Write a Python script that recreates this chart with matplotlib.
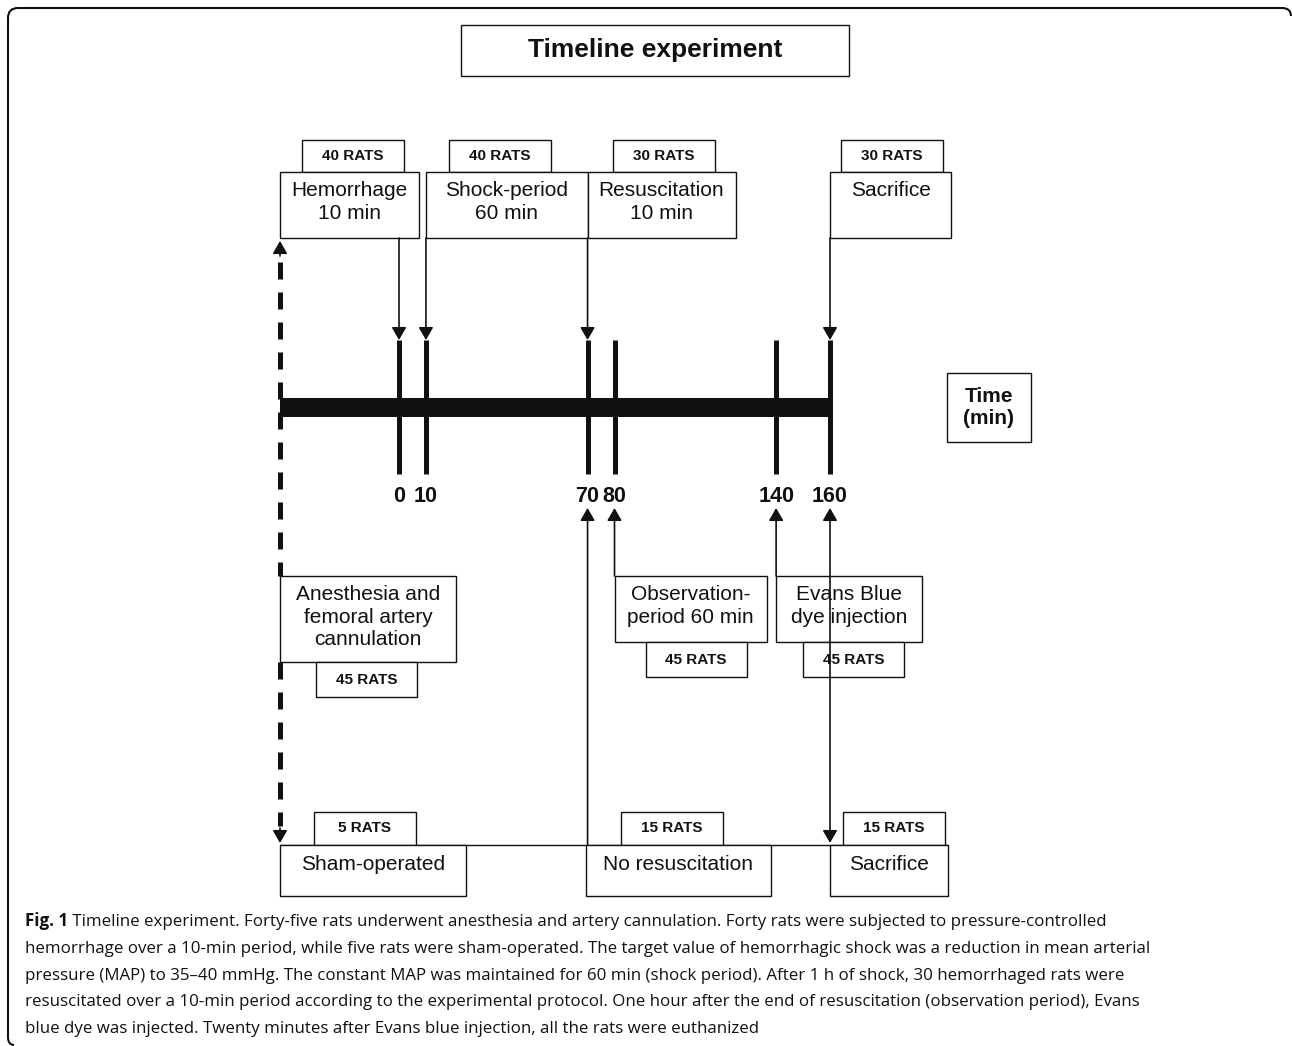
import matplotlib
matplotlib.use("Agg")
import matplotlib.pyplot as plt
from matplotlib.patches import Rectangle, PathPatch
from matplotlib.path import Path as MPath

# ---- data -------------------------------------------------------------
event_minutes = [0, 10, 70, 80, 140, 160]
event_labels = ["0", "10", "70", "80", "140", "160"]

title = "Timeline experiment"
axis_label = "Time\n(min)"

top_steps = ["Hemorrhage\n10 min", "Shock-period\n60 min", "Resuscitation\n10 min", "Sacrifice"]
top_rats = ["40 RATS", "40 RATS", "30 RATS", "30 RATS"]
top_minutes = [0, 10, 70, 160]

mid_steps = ["Anesthesia and\nfemoral artery\ncannulation", "Observation-\nperiod 60 min",
             "Evans Blue\ndye injection"]
mid_rats = ["45 RATS", "45 RATS", "45 RATS"]
mid_minutes = [None, 80, 140]

bottom_steps = ["Sham-operated", "No resuscitation", "Sacrifice"]
bottom_rats = ["5 RATS", "15 RATS", "15 RATS"]
bottom_minutes = [None, 70, 160]

caption_bold = "Fig. 1"
caption_lines = [
    " Timeline experiment. Forty-five rats underwent anesthesia and artery cannulation. Forty rats were subjected to pressure-controlled",
    "hemorrhage over a 10-min period, while five rats were sham-operated. The target value of hemorrhagic shock was a reduction in mean arterial",
    "pressure (MAP) to 35\u201340 mmHg. The constant MAP was maintained for 60 min (shock period). After 1 h of shock, 30 hemorrhaged rats were",
    "resuscitated over a 10-min period according to the experimental protocol. One hour after the end of resuscitation (observation period), Evans",
    "blue dye was injected. Twenty minutes after Evans blue injection, all the rats were euthanized",
]

# ---- layout -----------------------------------------------------------
W, H = 1292, 1046
FONT = "Liberation Sans"
TAB_SIZE, NUM_SIZE = 11, 15.5
CAP_FONT = ["Open Sans", "DejaVu Sans"]
CAP_SIZE = 12.2
INK = "#111111"

fig = plt.figure(figsize=(W / 100, H / 100), dpi=100)
ax = fig.add_axes([0, 0, 1, 1])
ax.set_xlim(0, W)
ax.set_ylim(H, 0)
ax.axis("off")

# timeline axes in minutes (0 min -> x=399 px, 160 min -> x=830 px)
tl = fig.add_axes([399 / W, 0, (830 - 399) / W, 1])
tl.set_xlim(0, 160)
tl.set_ylim(H, 0)
tl.axis("off")
tl.patch.set_alpha(0)


def tx(m):
    """minutes -> canvas x through the timeline axes."""
    d = tl.transData.transform((m, 0))
    return ax.transData.inverted().transform(d)[0]


def box(x0, x1, y0, y1, text=None, size=15, bold=False, pad=None, z=2):
    ax.add_patch(Rectangle((x0, y0), x1 - x0, y1 - y0, fc="white", ec=INK, lw=1.0, zorder=z))
    if text is None:
        return
    kw = dict(ha="center", fontsize=size, family=FONT, color=INK, zorder=z + 0.1,
              weight="bold" if bold else "normal", linespacing=1.24)
    if pad is None:
        ax.text((x0 + x1) / 2, (y0 + y1) / 2, text, va="center", **kw)
    else:
        ax.text((x0 + x1) / 2, y0 + pad, text, va="top", **kw)


def tab(x0, y0, y1, text, w=102):
    box(x0, x0 + w, y0, y1, text, size=TAB_SIZE, bold=True)


def arrow(x, y_from, y_to, both=False):
    style = "<|-|>" if both else "-|>"
    ax.annotate("", xy=(x, y_to), xytext=(x, y_from), zorder=5,
                arrowprops=dict(arrowstyle=style + ",head_length=0.38,head_width=0.22",
                                mutation_scale=20, lw=1.2, color=INK,
                                shrinkA=0, shrinkB=0))


# outer frame (top and left edges with rounded corners)
frame = MPath([(14, 1045), (8, 1045), (8, 1037), (8, 18), (8, 8), (18, 8),
               (1282, 8), (1291, 8), (1291, 16)],
              [MPath.MOVETO, MPath.CURVE3, MPath.CURVE3, MPath.LINETO, MPath.CURVE3,
               MPath.CURVE3, MPath.LINETO, MPath.CURVE3, MPath.CURVE3])
ax.add_patch(PathPatch(frame, fc="none", ec=INK, lw=1.5))

# title
box(461, 849, 25, 76, title, size=19, bold=True)

# timeline bar + ticks + labels
ax.add_patch(Rectangle((280, 398), tx(160) - 280, 19, fc=INK, ec="none", zorder=3))
tl.vlines(event_minutes, 340, 474, color=INK, lw=3.6, capstyle="butt", zorder=4,
          clip_on=False)
for m, lab in zip(event_minutes, event_labels):
    tl.text(m, 497, lab, ha="center", va="center", fontsize=NUM_SIZE, weight="bold",
            family=FONT, color=INK)
box(947, 1031, 373, 442, axis_label, size=15, bold=True)

# dashed line from anesthesia to hemorrhage / sham
for y0, y1 in [(262, 576), (662, 826)]:
    ax.plot([280, 280], [y0, y1], color=INK, lw=3.6, dashes=(3.4, 2.6),
            solid_capstyle="butt", dash_capstyle="butt", zorder=1)
arrow(280, 256, 241)
arrow(280, 828, 843)

# top row
top_bounds = [(280, tx(10) - 7), (tx(10), tx(70)), (tx(70), tx(70) + 148), (tx(160), tx(160) + 121)]
top_tab_off = [22, 23, 25, 11]
for (x0, x1), step, rats, off in zip(top_bounds, top_steps, top_rats, top_tab_off):
    tab(x0 + off, 140, 172, rats)
    box(x0, x1, 172, 238, step, pad=9)
for m in top_minutes:
    arrow(tx(m), 238, 340)

# middle row
mid_bounds = [(280, 456, 662), (tx(80), tx(80) + 152, 642), (tx(140), tx(140) + 146, 642)]
mid_tab_off = [36, 31, 27]
for (x0, x1, yb), step, rats, off in zip(mid_bounds, mid_steps, mid_rats, mid_tab_off):
    box(x0, x1, 576, yb, step, pad=9)
    tab(x0 + off, yb, yb + 35, rats, w=101)
for m in mid_minutes:
    if m is not None:
        arrow(tx(m), 576, 508)

# bottom row
bot_bounds = [(280, 466), (tx(70) - 2, tx(70) + 183), (tx(160), tx(160) + 118)]
bot_tab_off = [34, 35, 13]
ax.hlines(845, 280, bot_bounds[-1][1], color=INK, lw=1.0, zorder=1)
for (x0, x1), step, rats, off in zip(bot_bounds, bottom_steps, bottom_rats, bot_tab_off):
    tab(x0 + off, 812, 845, rats)
    box(x0, x1, 845, 896, step, pad=10)
for m in bottom_minutes:
    if m is not None:
        arrow(tx(m), 845 if m != 160 else 843, 508, both=(m == 160))

# caption
base = [926, 953, 980, 1006, 1033]
t1 = ax.text(25, base[0], caption_bold, fontsize=CAP_SIZE, weight="bold", family=CAP_FONT,
             va="baseline", color=INK)
ax.annotate(caption_lines[0], xy=(1, 0), xycoords=t1, va="bottom", ha="left",
            fontsize=CAP_SIZE, family=CAP_FONT, color=INK)
for y, line in zip(base[1:], caption_lines[1:]):
    ax.text(25, y, line, fontsize=CAP_SIZE, family=CAP_FONT, va="baseline", color=INK)

fig.savefig("out.png", dpi=100)
